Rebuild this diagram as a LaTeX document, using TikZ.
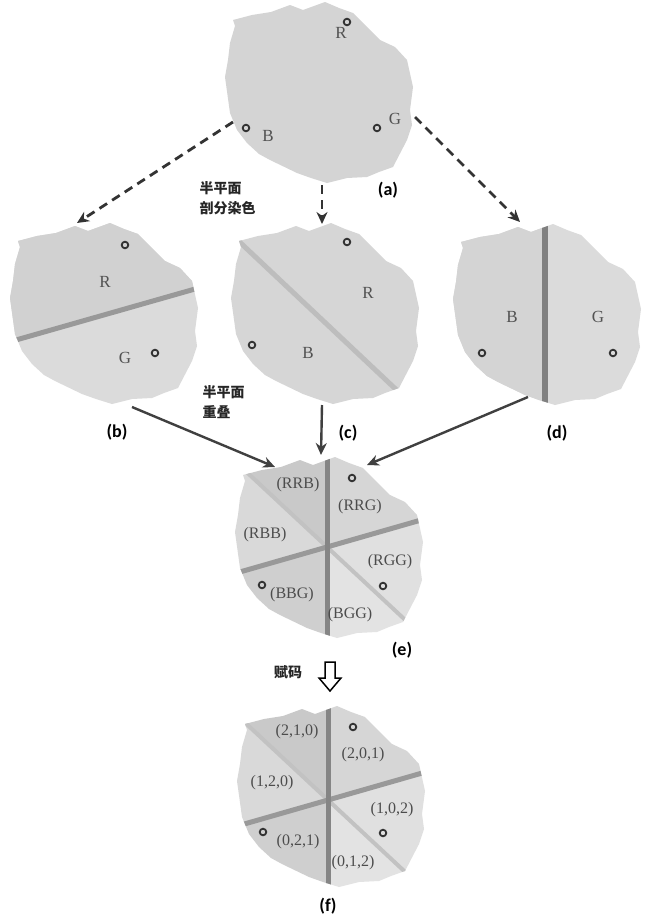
\documentclass[tikz,border=0pt]{standalone}
\usepackage{fontspec}
\setmainfont{Liberation Serif}
\newfontfamily\capfont{Carlito}
\newfontfamily\cjk{Noto Sans CJK SC}
\usetikzlibrary{arrows.meta,calc}

% outline of one torn-paper region, centred at the origin (y grows downwards)
\newcommand{\blobpath}{(-86,-72) -- (-67,-77) -- (-48,-80) -- (-29,-87) -- (-16,-82) -- (6,-90) -- (20,-84) -- (34,-79) -- (48,-65) -- (61,-52) -- (76,-45) -- (88,-32) -- (94,-5) -- (91,18) -- (93,33) -- (88,48) -- (74,75) -- (60,80) -- (48,85) -- (28,86) -- (8,91) -- (-8,86) -- (-22,81) -- (-49,68) -- (-60,62) -- (-72,51) -- (-82,38) -- (-89,21) -- (-94,-15) -- (-91,-32) -- (-89,-49) -- (-84,-66) -- cycle}

\begin{document}
\begin{tikzpicture}[x=1pt, y=-1pt, thick]
  \tikzstyle{cutline} = [line width=5pt]
  \tikzstyle{ringmark} = [draw=black!80, line width=1.8pt]
  \tikzstyle{lettermark} = [text=black!68, font=\fontsize{17}{17}\selectfont]
  \tikzstyle{tuplelabel} = [text=black!70, font=\fontsize{16}{16}\selectfont]
  \tikzstyle{caplabel} = [font=\capfont\bfseries\fontsize{18}{18}\selectfont]
  \tikzstyle{cjknote} = [font=\cjk\bfseries\fontsize{14}{20}\selectfont, align=left, anchor=west, text=black!85]
  \tikzstyle{splitarrow} = [draw=black!80, line width=2.8pt, dash pattern=on 9pt off 6pt, -{Stealth[length=12pt,width=11pt]}]
  \tikzstyle{mergearrow} = [draw=black!75, line width=2.4pt, -{Stealth[length=12pt,width=11pt]}]

  \useasboundingbox[fill=white] (0,0) rectangle (648,918);

  % (a)
  \begin{scope}[shift={(319,92)}]
    \fill[black!17] \blobpath;
  \end{scope}
  % (b)
  \begin{scope}[shift={(104,313)}]
    \fill[black!14] \blobpath;
    \clip \blobpath;
    \fill[black!18] (-260,76) -- (270,-75) -- (270,-200) -- (-260,-200) -- cycle;
    \draw[cutline, draw=black!40] (-260,76) -- (270,-75);
  \end{scope}
  % (c)
  \begin{scope}[shift={(325,313)}]
    \fill[black!16] \blobpath;
    \clip \blobpath;
    \draw[cutline, draw=black!26] (-200,-179) -- (200,198);
  \end{scope}
  % (d)
  \begin{scope}[shift={(547,314)}]
    \fill[black!14] \blobpath;
    \clip \blobpath;
    \fill[black!17] (-2,-150) rectangle (-200,150);
    \draw[cutline, line width=6pt, draw=black!50] (-2,-150) -- (-2,150);
  \end{scope}
  % (e) and (f)
  \foreach \cx/\cy/\dx/\dy in {327/547/2/0, 328/800/3/-4} {
    \begin{scope}[shift={(\cx,\cy)}]
      \clip[shift={(\dx,\dy)}] \blobpath;
      \foreach \from/\to/\tone in {-90/-16/16, -137/-90/21, -196/-137/15, 90/164/19, 43/90/11, -16/43/12}
        \fill[black!\tone] (0,0) -- (\from:220) -- (\to:220) -- cycle;
      \draw[cutline, line width=4pt, draw=black!24] (-137:150) -- (43:150);
      \draw[cutline, draw=black!40] (164:150) -- (-16:150);
      \draw[cutline, draw=black!48] (0,-150) -- (0,150);
    \end{scope}
  }

  % sample points
  \foreach \px/\py in {347/22, 246/128, 377/128, 125/245, 155/353, 347/242, 252/345,
                       482/353, 613/353, 352/478, 262/585, 383/586, 353/727, 263/832, 383/833}
    \draw[ringmark] (\px,\py) circle[radius=3.3pt];

  \node[lettermark] (aR) at (341,33) {R};
  \node[lettermark] (aB) at (268,136) {B};
  \node[lettermark] (aG) at (395,119) {G};
  \node[lettermark] (bR) at (105,282) {R};
  \node[lettermark] (bG) at (125,358) {G};
  \node[lettermark] (cR) at (368,293) {R};
  \node[lettermark] (cB) at (308,353) {B};
  \node[lettermark] (dB) at (512,317) {B};
  \node[lettermark] (dG) at (598,317) {G};

  \node[tuplelabel] (eRRB) at (298,485) {(RRB)};
  \node[tuplelabel] (eRRG) at (360,507) {(RRG)};
  \node[tuplelabel] (eRBB) at (265,535) {(RBB)};
  \node[tuplelabel] (eRGG) at (390,562) {(RGG)};
  \node[tuplelabel] (eBBG) at (292,595) {(BBG)};
  \node[tuplelabel] (eBGG) at (350,615) {(BGG)};

  \node[tuplelabel] (f210) at (297,732) {(2,1,0)};
  \node[tuplelabel] (f201) at (363,755) {(2,0,1)};
  \node[tuplelabel] (f120) at (272,783) {(1,2,0)};
  \node[tuplelabel] (f102) at (392,810) {(1,0,2)};
  \node[tuplelabel] (f021) at (298,842) {(0,2,1)};
  \node[tuplelabel] (f012) at (353,863) {(0,1,2)};

  \node[caplabel] (capa) at (388,190) {(a)};
  \node[caplabel] (capb) at (117,432) {(b)};
  \node[caplabel] (capc) at (348,433) {(c)};
  \node[caplabel] (capd) at (557,433) {(d)};
  \node[caplabel] (cape) at (402,650) {(e)};
  \node[caplabel] (capf) at (328,906) {(f)};

  \node[cjknote] (cutnote) at (196,198) {半平面\\剖分染色};
  \node[cjknote] (mergenote) at (199,402) {半平面\\重叠};
  \node[cjknote, anchor=center] (codenote) at (288,672) {赋码};

  % arrow ends
  \coordinate (aSW) at (233,122);
  \coordinate (aS) at (322,185);
  \coordinate (aSE) at (415,117);
  \coordinate (bN) at (77,223);
  \coordinate (cN) at (322,224);
  \coordinate (dN) at (520,222);
  \coordinate (bS) at (132,407);
  \coordinate (cS) at (322,405);
  \coordinate (dS) at (528,397);
  \coordinate (eNW) at (275,467);
  \coordinate (eN) at (321,455);
  \coordinate (eNE) at (367,465);

  \path[splitarrow] (aSW) -- (bN);
  \path[splitarrow] (aS) -- (cN);
  \path[splitarrow] (aSE) -- (dN);
  \path[mergearrow] (bS) -- (eNW);
  \path[mergearrow] (cS) -- (eN);
  \path[mergearrow] (dS) -- (eNE);

  % hollow arrow to the code assignment
  \draw[line width=1.5pt, fill=white] (325,662) -- (335,662) -- (335,678) -- (341,678)
    -- (330,691) -- (319,678) -- (325,678) -- cycle;
\end{tikzpicture}
\end{document}
